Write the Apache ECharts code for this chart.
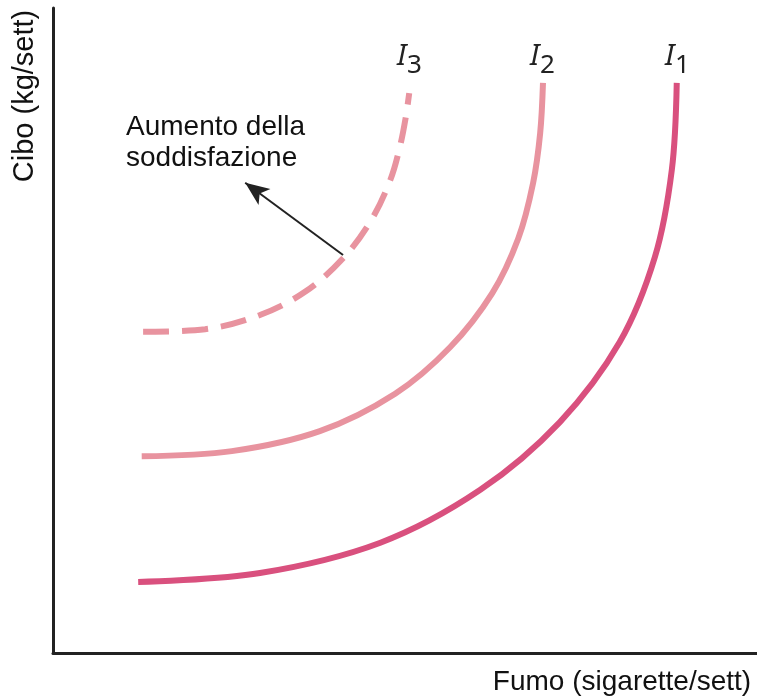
<!DOCTYPE html>
<html>
<head>
<meta charset="utf-8">
<script src="https://cdn.jsdelivr.net/npm/echarts@6/dist/echarts.min.js"></script>
<style>
html,body{margin:0;padding:0;background:#fff;}
#c{width:757px;height:698px;}
</style>
</head>
<body>
<div id="c"></div>
<script>
// Indifference curves (arbitrary units 0-100 on both axes)
const I1_x = [12.1, 29.4, 46.5, 60.7, 72.0, 80.5, 85.5, 87.9, 88.6];
const I1_y = [11.0, 12.4, 17.1, 25.3, 35.8, 48.2, 61.4, 74.9, 88.4];
const I2_x = [12.6, 25.4, 37.9, 48.6, 56.4, 62.4, 66.1, 68.2, 69.2, 69.6];
const I2_y = [30.5, 31.3, 34.4, 40.2, 47.4, 55.8, 64.3, 72.9, 80.6, 88.4];
const I3_x = [12.8, 21.6, 29.4, 35.8, 41.2, 45.2, 47.9, 49.3, 50.1, 50.6];
const I3_y = [49.8, 50.2, 52.4, 56.0, 61.2, 67.1, 73.3, 78.6, 83.0, 86.8];
const arrowFrom = [41.2, 61.7];
const arrowTo = [27.3, 72.9];
const curveNames = ['I1', 'I2', 'I3'];
const curveSubs = ['1', '2', '3'];
const xTitle = 'Fumo (sigarette/sett)';
const yTitle = 'Cibo (kg/sett)';
const annotation = 'Aumento della\nsoddisfazione';

function pairs(xs, ys) { return xs.map((x, i) => [x, ys[i]]); }

const chart = echarts.init(document.getElementById('c'), null, {renderer: 'canvas'});
const dark = '#d9507e';
const light = '#e8939f';
const font = '"Liberation Sans", Arial, sans-serif';

function label(x, y, sub) {
  return {
    type: 'group',
    children: [
      {type: 'text', x: x, y: y, style: {text: 'I', font: 'italic 29px "Noto Sans", sans-serif', fill: '#222', align: 'left', verticalAlign: 'middle'}},
      {type: 'text', x: x + 10, y: y + 9, style: {text: sub, font: '26px "Noto Sans", sans-serif', fill: '#222', align: 'left', verticalAlign: 'middle'}}
    ]
  };
}

chart.setOption({
  animation: false,
  backgroundColor: '#fff',
  grid: {left: 53, right: 0, top: 8, bottom: 45},
  xAxis: {type: 'value', min: 0, max: 100, axisLine: {show: true, lineStyle: {color: '#222', width: 3}}, axisTick: {show: false}, axisLabel: {show: false}, splitLine: {show: false}},
  yAxis: {type: 'value', min: 0, max: 100, axisLine: {show: true, lineStyle: {color: '#222', width: 3}}, axisTick: {show: false}, axisLabel: {show: false}, splitLine: {show: false}},
  series: [
    {name: curveNames[0], type: 'line', data: pairs(I1_x, I1_y), smooth: 0.35, showSymbol: false, lineStyle: {color: dark, width: 6}},
    {name: curveNames[1], type: 'line', data: pairs(I2_x, I2_y), smooth: 0.35, showSymbol: false, lineStyle: {color: light, width: 6}},
    {name: curveNames[2], type: 'line', data: pairs(I3_x, I3_y), smooth: 0.35, showSymbol: false, lineStyle: {color: light, width: 6, type: [26, 13]},
     markLine: {silent: true, animation: false, symbol: ['none', 'arrow'], symbolSize: [15, 24], label: {show: false},
       lineStyle: {color: '#222', width: 2, type: 'solid'},
       data: [[{coord: arrowFrom}, {coord: arrowTo}]]}}
  ],
  graphic: [
    {type: 'text', left: 126, top: 112, style: {text: annotation, font: '28px ' + font, fill: '#111', lineHeight: 31}},
    {type: 'text', x: 25, y: 96, rotation: Math.PI / 2, style: {text: yTitle, font: '29px ' + font, fill: '#111', align: 'center', verticalAlign: 'middle'}},
    {type: 'text', x: 622, y: 682, style: {text: xTitle, font: '28px ' + font, fill: '#111', align: 'center', verticalAlign: 'middle'}},
    label(397, 57, curveSubs[2]),
    label(530, 57, curveSubs[1]),
    label(665, 57, curveSubs[0])
  ]
});
</script>
</body>
</html>
